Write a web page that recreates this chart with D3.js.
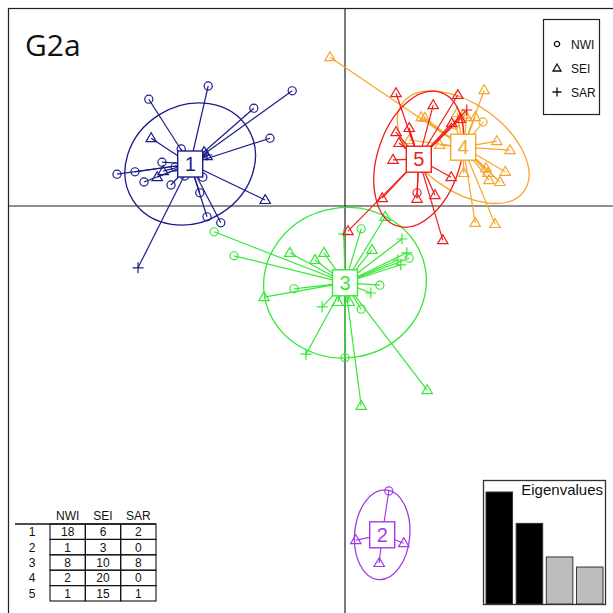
<!DOCTYPE html>
<html>
<head>
<meta charset="utf-8">
<script src="https://cdn.jsdelivr.net/npm/d3@7"></script>
<style>
	body { margin: 0; background: #fff; }
	text { font-family: 'Liberation Sans', Arial, sans-serif; }
</style>
</head>
<body>
<svg id="chart" width="613" height="613"></svg>
<script>
// groups, colours and where each group sits
const groups = ['1', '2', '3', '4', '5'];
const groupColors = ['#1c1c8a', '#a33be6', '#36e836', '#f6a62a', '#f01c1c'];
const groupCentres = [[-2.58, 0.70], [0.62, -5.48], [0.0, -1.28], [1.97, 0.98], [1.23, 0.78]];
// ellipse half axes and tilt (degrees)
const ellipseAxes = [[1.13, 0.97, 32], [0.75, 0.46, 85], [1.36, 1.25, 10], [1.25, 0.72, -36], [1.17, 0.69, 72]];

const sources = ['NWI', 'SEI', 'SAR'];

// site scores: [x, y, source index]
const group1 = [
	[-3.27, 1.78, 0], [-2.28, 2.0, 0], [-0.88, 1.92, 0], [-1.52, 1.63, 0], [-1.25, 1.13, 0],
	[-2.73, 0.95, 0], [-3.8, 0.53, 0], [-3.5, 0.57, 0], [-3.05, 0.73, 0], [-3.35, 0.4, 0],
	[-2.9, 0.35, 0], [-2.37, 0.48, 0], [-2.42, 0.22, 0], [-2.3, -0.18, 0], [-2.07, -0.28, 0],
	[-2.83, 0.65, 0], [-2.45, 0.77, 0], [-2.67, 0.5, 0],
	[-3.23, 1.13, 1], [-1.33, 0.1, 1], [-3.03, 0.58, 1], [-3.13, 0.48, 1], [-2.3, 0.83, 1], [-2.35, 0.9, 1],
	[-3.45, -1.03, 2], [-2.3, 0.85, 2]
];
const group2 = [
	[0.73, -4.75, 0],
	[0.18, -5.57, 1], [0.98, -5.62, 1], [0.57, -5.95, 1]
];
const group3 = [
	[-2.18, -0.43, 0], [-1.85, -0.83, 0], [-0.85, -1.38, 0], [0.27, -0.38, 0],
	[1.07, -0.87, 0], [0.58, -1.32, 0], [0.27, -1.72, 0], [0.0, -2.53, 0],
	[-0.92, -0.78, 1], [-0.5, -0.9, 1], [-0.35, -0.78, 1], [-1.35, -1.52, 1], [-0.12, -1.6, 1],
	[0.07, -1.6, 1], [0.45, -0.73, 1], [0.67, -0.18, 1], [1.37, -3.07, 1], [0.27, -3.33, 1],
	[-0.02, -0.47, 2], [0.95, -0.55, 2], [1.03, -0.78, 2], [0.93, -0.98, 2],
	[0.43, -1.45, 2], [-0.38, -1.68, 2], [-0.65, -2.47, 2], [0.88, -0.9, 2]
];
const group4 = [
	[2.3, 1.4, 0], [1.83, 1.35, 0],
	[2.32, 1.93, 1], [1.27, 1.48, 1], [1.87, 1.55, 1], [2.03, 1.48, 1], [2.17, 1.48, 1],
	[2.53, 1.08, 1], [2.75, 0.93, 1], [1.98, 0.55, 1], [2.35, 0.63, 1], [2.38, 0.55, 1],
	[2.4, 0.43, 1], [2.67, 0.57, 1], [2.17, -0.28, 1], [2.5, -0.3, 1], [1.07, 1.1, 1],
	[-0.25, 2.48, 1], [1.33, 1.47, 1], [1.58, 1.02, 1], [2.58, 0.4, 1], [1.97, 1.52, 1]
];
const group5 = [
	[1.2, 0.22, 0],
	[0.85, 1.88, 1], [1.88, 1.85, 1], [1.47, 1.68, 1], [1.92, 1.45, 1], [0.85, 1.23, 1],
	[0.9, 1.05, 1], [0.8, 0.77, 1], [1.77, 0.48, 1], [0.62, 0.13, 1], [1.2, 0.12, 1],
	[1.5, 0.18, 1], [1.63, -0.57, 1], [0.05, -0.42, 1], [1.78, 1.38, 1], [1.07, 1.3, 1],
	[2.03, 1.6, 2]
];
const groupPoints = [group1, group2, group3, group4, group5];

// counts table and eigenvalues
const tableCounts = [[18, 6, 2], [1, 3, 0], [8, 10, 8], [2, 20, 0], [1, 15, 1]];
const eigenvalues = [100, 72, 42, 33];
const keptAxes = 2;

const svg = d3.select('#chart');
const x = d3.scaleLinear().domain([-5.6, 4.5]).range([9, 615]);
const y = d3.scaleLinear().domain([3.3, -6.8]).range([8, 614]);
const unit = x(1) - x(0);

// frame and axes
svg.append('rect')
	.attr('x', 8.5).attr('y', 8.5)
	.attr('width', 610).attr('height', 610)
	.attr('fill', 'none').attr('stroke', '#222').attr('stroke-width', 1.2);
svg.append('line')
	.attr('x1', 8).attr('x2', 613).attr('y1', y(0)).attr('y2', y(0))
	.attr('stroke', '#222').attr('stroke-width', 1.2);
svg.append('line')
	.attr('x1', x(0)).attr('x2', x(0)).attr('y1', 8).attr('y2', 613)
	.attr('stroke', '#222').attr('stroke-width', 1.2);

// point glyph paths, centred on 0,0
function glyph(type) {
	if (type === 0) return d3.symbol(d3.symbolCircle, 52)();
	if (type === 1) return 'M0,-5.4L5.2,3.5L-5.2,3.5Z';
	return 'M-5.5,0H5.5M0,-5.5V5.5';
}

const layer = svg.append('g');
groupPoints.forEach((pts, gi) => {
	const col = groupColors[gi];
	const c = groupCentres[gi];
	const e = ellipseAxes[gi];
	const g = layer.append('g');
	g.append('ellipse')
		.attr('cx', x(c[0])).attr('cy', y(c[1]))
		.attr('rx', e[0] * unit).attr('ry', e[1] * unit)
		.attr('transform', `rotate(${-e[2]},${x(c[0])},${y(c[1])})`)
		.attr('fill', 'none').attr('stroke', col).attr('stroke-width', 1.3);
	g.selectAll('line.star')
		.data(pts)
		.join('line')
		.attr('class', 'star')
		.attr('x1', x(c[0])).attr('y1', y(c[1]))
		.attr('x2', d => x(d[0])).attr('y2', d => y(d[1]))
		.attr('stroke', col).attr('stroke-width', 1.2);
	g.selectAll('path.pt')
		.data(pts)
		.join('path')
		.attr('class', 'pt')
		.attr('d', d => glyph(d[2]))
		.attr('transform', d => `translate(${x(d[0])},${y(d[1])})`)
		.attr('fill', 'none').attr('stroke', col).attr('stroke-width', 1.2);
});

// group labels on top
groups.forEach((lab, gi) => {
	const c = groupCentres[gi];
	const cx = x(c[0]), cy = y(c[1]);
	svg.append('rect')
		.attr('x', cx - 12.5).attr('y', cy - 13)
		.attr('width', 25).attr('height', 26)
		.attr('fill', '#fff').attr('stroke', groupColors[gi]).attr('stroke-width', 1.4);
	svg.append('text')
		.attr('x', cx).attr('y', cy + 7)
		.attr('text-anchor', 'middle')
		.attr('font-size', 20)
		.attr('fill', groupColors[gi])
		.text(lab);
});

// title
svg.append('text')
	.attr('x', 25).attr('y', 56)
	.style('font-family', "'Open Sans', sans-serif")
	.attr('font-size', 30)
	.attr('fill', '#111')
	.text('G2a');

// legend box
const legend = svg.append('g');
legend.append('rect')
	.attr('x', 543.5).attr('y', 19.5).attr('width', 56).attr('height', 95)
	.attr('fill', '#fff').attr('stroke', '#222').attr('stroke-width', 1.2);
sources.forEach((s, i) => {
	const ly = 44 + i * 24;
	legend.append('path')
		.attr('d', i === 0 ? d3.symbol(d3.symbolCircle, 22)() : i === 1 ? 'M0,-4L4,3L-4,3Z' : 'M-4.5,0H4.5M0,-4.5V4.5')
		.attr('transform', `translate(557,${ly})`)
		.attr('fill', 'none').attr('stroke', '#111').attr('stroke-width', 1.3);
	legend.append('text')
		.attr('x', 571).attr('y', ly + 4.5)
		.attr('font-size', 12).attr('fill', '#111')
		.text(s);
});

// counts table
const colX = d3.scaleBand().domain(sources).range([50, 156]);
const rowY = d3.scaleBand().domain(groups).range([524, 601]);
const table = svg.append('g');
sources.forEach(s => {
	table.append('text')
		.attr('x', colX(s) + colX.bandwidth() / 2).attr('y', 520)
		.attr('text-anchor', 'middle').attr('font-size', 12).attr('fill', '#111')
		.text(s);
});
table.append('line')
	.attr('x1', 15).attr('x2', 156).attr('y1', 524).attr('y2', 524)
	.attr('stroke', '#111').attr('stroke-width', 1.3);
groups.forEach((g, ri) => {
	table.append('text')
		.attr('x', 32).attr('y', rowY(g) + rowY.bandwidth() / 2 + 4.5)
		.attr('text-anchor', 'middle').attr('font-size', 12).attr('fill', '#111')
		.text(g);
	sources.forEach((s, ci) => {
		table.append('rect')
			.attr('x', colX(s)).attr('y', rowY(g))
			.attr('width', colX.bandwidth()).attr('height', rowY.bandwidth())
			.attr('fill', 'none').attr('stroke', '#111').attr('stroke-width', 1.1);
		table.append('text')
			.attr('x', colX(s) + colX.bandwidth() / 2).attr('y', rowY(g) + rowY.bandwidth() / 2 + 4.5)
			.attr('text-anchor', 'middle').attr('font-size', 12).attr('fill', '#111')
			.text(tableCounts[ri][ci]);
	});
});

// eigenvalue inset
const eig = svg.append('g');
eig.append('rect')
	.attr('x', 483.5).attr('y', 480.5).attr('width', 122).attr('height', 124)
	.attr('fill', '#fff').attr('stroke', '#333').attr('stroke-width', 1.3);
const ex = d3.scaleBand().domain(d3.range(eigenvalues.length)).range([486, 603]).paddingInner(0.12);
const ey = d3.scaleLinear().domain([0, eigenvalues[0]]).range([604, 492]);
eig.selectAll('rect.bar')
	.data(eigenvalues)
	.join('rect')
	.attr('class', 'bar')
	.attr('x', (d, i) => ex(i)).attr('width', ex.bandwidth())
	.attr('y', d => ey(d)).attr('height', d => ey(0) - ey(d))
	.attr('fill', (d, i) => (i < keptAxes ? '#000' : '#bdbdbd'))
	.attr('stroke', '#333').attr('stroke-width', 1);
eig.append('text')
	.attr('x', 603).attr('y', 495)
	.attr('text-anchor', 'end').attr('font-size', 15).attr('fill', '#111')
	.text('Eigenvalues');
</script>
</body>
</html>
